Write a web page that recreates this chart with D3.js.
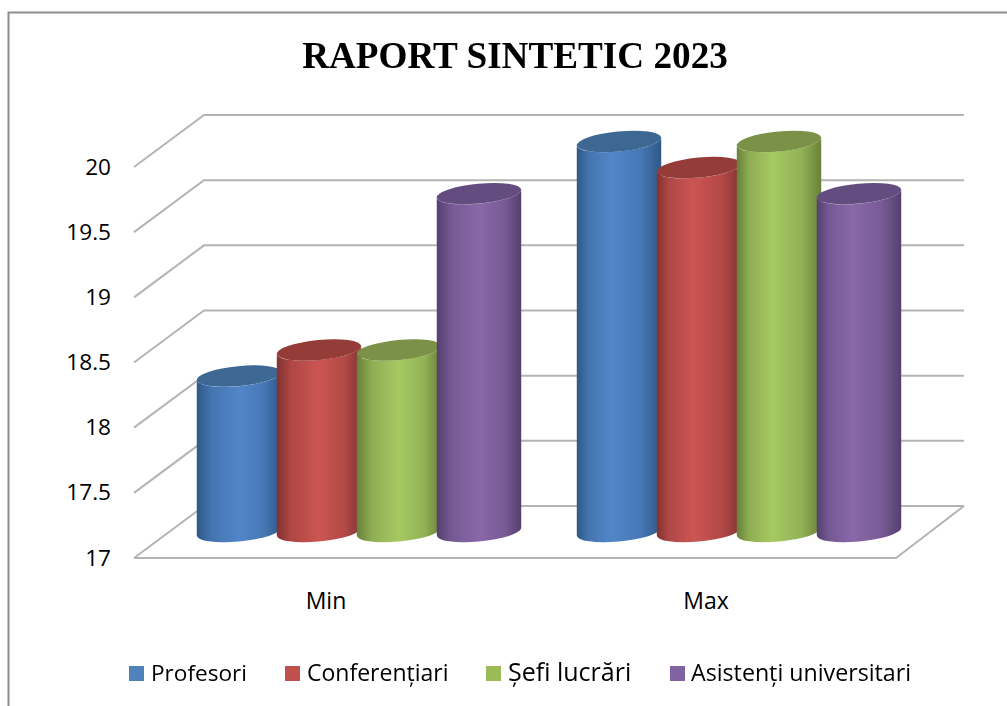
<!DOCTYPE html>
<html><head><meta charset="utf-8">
<script src="https://cdn.jsdelivr.net/npm/d3@7"></script>
<style>html,body{margin:0;padding:0;background:#fff;overflow:hidden}svg{display:block}</style>
</head><body><div id="chart"></div>
<script>
const titleText = "RAPORT SINTETIC 2023";
const categories = ["Min", "Max"];
const seriesNames = ["Profesori", "Conferențiari", "Șefi lucrări", "Asistenți universitari"];
const profesori = [18.2, 20];
const conferentiari = [18.4, 19.8];
const sefi = [18.4, 20];
const asistenti = [19.6, 19.6];
const seriesValues = [profesori, conferentiari, sefi, asistenti];
const yTicks = [17, 17.5, 18, 18.5, 19, 19.5, 20];
const swatchColors = ["#4f81bd", "#c0504d", "#9bbb59", "#8064a2"];
const bodyLight = ["#5286c9", "#cb5552", "#a6c961", "#8968a9"];
const bodyDark = ["#2e5887", "#823230", "#68803a", "#54406f"];
const capColors = ["#3d6794", "#943c39", "#7a9146", "#634d80"];
const legendSwatchX = [129, 285, 486, 670];
const legendTextX = [151, 307, 508, 691];
const legendSizes = [22.6, 23, 25, 23.2];

const W = 1007, H = 706;
const svg = d3.select("#chart").append("svg").attr("width", W).attr("height", H);
const defs = svg.append("defs");
defs.append("filter").attr("id", "soft").append("feGaussianBlur").attr("stdDeviation", 0.5);

svg.append("path").attr("d", `M8.5,${H}V12.5H${W}`).attr("fill", "none").attr("stroke", "#8c8c8c").attr("stroke-width", 2);

const y = d3.scaleLinear().domain([17, 20]).range([558, 167]);
const x0 = d3.scaleBand().domain(categories).range([136, 896]);
const x1 = d3.scaleBand().domain(d3.range(seriesNames.length)).range([0, 320]);
const depthX = 69, depthY = 52, barDX = 31, barDY = 26.5, capDrop = 1;

const grid = svg.append("g").attr("fill", "none").attr("stroke", "#b4b4b4").attr("stroke-width", 2).attr("filter", "url(#soft)");
const left = x0.range()[0] - 2, right = x0.range()[1];
grid.selectAll(".g").data(yTicks).join("path")
  .attr("d", d => `M${left},${y(d)}L${left + depthX + 1},${y(d) - depthY}H${right + depthX - 1}`);
grid.append("path").attr("d", `M${left},${y(17)}H${right}L${right + depthX - 1},${y(17) - depthY}`);

const font = "'Open Sans', 'Noto Sans', sans-serif";
svg.append("g").selectAll("text").data(yTicks).join("text")
  .attr("x", 111).attr("y", d => y(d) + 7.5).attr("text-anchor", "end")
  .attr("font-family", font).attr("font-size", 22.6).attr("fill", "#000").text(d => d);

svg.append("g").selectAll("text").data(categories).join("text")
  .attr("x", d => x0(d) + x0.bandwidth() / 2).attr("y", 608.5).attr("text-anchor", "middle")
  .attr("font-family", font).attr("font-size", 23).attr("fill", "#000").text(d => d);

seriesNames.forEach((s, i) => categories.forEach((c, j) => {
  const g = defs.append("linearGradient").attr("id", `g${i}_${j}`);
  const mid = j === 0 ? 50 : 42;
  [[0, bodyDark[i]], [mid * 0.35, d3.interpolateRgb(bodyDark[i], bodyLight[i])(0.62)], [mid, bodyLight[i]],
   [mid + (100 - mid) * 0.6, d3.interpolateRgb(bodyDark[i], bodyLight[i])(0.68)], [100, bodyDark[i]]]
    .forEach(([o, col]) => g.append("stop").attr("offset", o + "%").attr("stop-color", col));
}));

const rot = -5.5;
const a = 42.4, b = 10, theta = -rot * Math.PI / 180;
const hw = Math.sqrt(a * a * Math.cos(theta) ** 2 + b * b * Math.sin(theta) ** 2);
const ext = (a * a - b * b) * Math.sin(theta) * Math.cos(theta) / hw;
const bars = svg.append("g").attr("filter", "url(#soft)");
categories.forEach((c, j) => {
  seriesNames.forEach((s, i) => {
    const cx = x0(c) + (x0.bandwidth() - 320) / 2 + x1(i) + x1.bandwidth() / 2 + barDX + 2;
    const top = y(seriesValues[i][j]) - barDY + capDrop, bot = y(17) - barDY;
    bars.append("path")
      .attr("d", `M${cx - hw},${top + ext}L${cx - hw},${bot + ext}A${a},${b},${rot},0,0,${cx + hw},${bot - ext}L${cx + hw},${top - ext}A${a},${b},${rot},0,1,${cx - hw},${top + ext}Z`)
      .attr("fill", `url(#g${i}_${j})`);
    bars.append("ellipse").attr("cx", cx).attr("cy", top).attr("rx", a).attr("ry", b)
      .attr("transform", `rotate(${rot},${cx},${top})`).attr("fill", capColors[i]);
  });
});

svg.append("text").attr("x", 515).attr("y", 68).attr("text-anchor", "middle")
  .attr("font-family", "'Liberation Serif', serif").attr("font-weight", "bold").attr("font-size", 37.2).attr("fill", "#000").text(titleText);

const leg = svg.append("g");
leg.selectAll("rect").data(seriesNames).join("rect")
  .attr("x", (d, i) => legendSwatchX[i]).attr("y", 666).attr("width", 15).attr("height", 15)
  .attr("fill", (d, i) => swatchColors[i]);
leg.selectAll("text").data(seriesNames).join("text")
  .attr("x", (d, i) => legendTextX[i]).attr("y", 681)
  .attr("font-family", font).attr("font-size", (d, i) => legendSizes[i]).attr("fill", "#000").text(d => d);
</script></body></html>
